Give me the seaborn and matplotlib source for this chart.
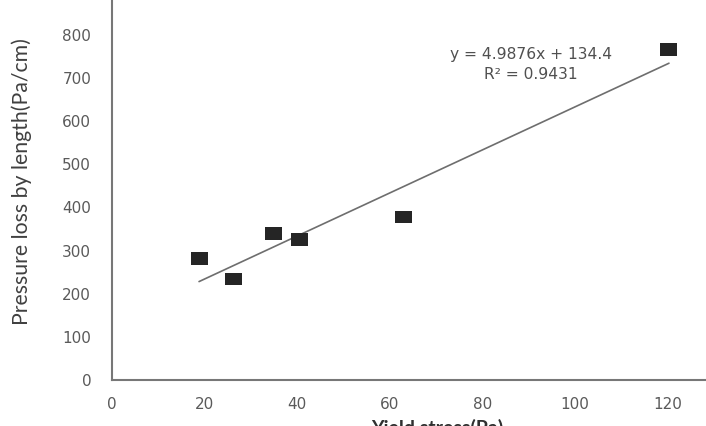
import numpy as np
import pandas as pd
import seaborn as sns
import matplotlib.pyplot as plt

# Datos
yield_stress = [18.8, 26.2, 34.8, 40.5, 63.0, 120.3]
pressure_loss = [281, 234, 340, 326, 378, 766]
slope = 4.9876
intercept = 134.4
r2 = 0.9431
x_ticks = [0, 20, 40, 60, 80, 100, 120]
y_ticks = [0, 100, 200, 300, 400, 500, 600, 700, 800]

df = pd.DataFrame({"x": yield_stress, "y": pressure_loss})
x_fit = np.array([min(yield_stress), max(yield_stress)])
df_fit = pd.DataFrame({"x": x_fit, "y": slope * x_fit + intercept})

sns.set_style("white")
plt.rcParams["font.family"] = ["DejaVu Sans"]

fig = plt.figure(figsize=(7.06, 4.26), dpi=100)
ax = fig.add_axes([112 / 706, 46 / 426, 1 - 112 / 706, 1 - 46 / 426])

# marcador rectangular (algo mas ancho que alto)
rect = [(-1.35, -1), (1.35, -1), (1.35, 1), (-1.35, 1), (-1.35, -1)]
sns.lineplot(data=df_fit, x="x", y="y", color="#6e6e6e", linewidth=1.2, ax=ax)
sns.scatterplot(data=df, x="x", y="y", marker=rect, s=150, color="#252525",
                edgecolor="none", ax=ax, zorder=3)

ax.set_xlim(0, 128.3)
ax.set_ylim(0, 881)
ax.set_xticks(x_ticks)
ax.set_yticks(y_ticks)
ax.tick_params(direction="in", length=5, width=1, color="#666666",
               labelcolor="#5a5a5a", labelsize=11)
ax.tick_params(axis="x", pad=12)
ax.tick_params(axis="y", pad=15)
for side in ["left", "bottom"]:
    ax.spines[side].set_color("#777777")
    ax.spines[side].set_linewidth(1.5)
for side in ["top", "right"]:
    ax.spines[side].set_visible(False)

ax.set_xlabel("")
ax.set_ylabel("")

ax.text(0.705, 0.875, f"y = {slope}x + {intercept}\nR² = {r2}",
        transform=ax.transAxes, ha="center", va="top", fontsize=11.2,
        color="#505050", linespacing=1.35)

fig.text(22 / 706, 1 - 182 / 426, "Pressure loss by length(Pa/cm)",
         rotation=90, ha="center", va="center", fontsize=15.3, color="#404040",
         family=["Lato", "DejaVu Sans"])

fig.text(437 / 706, 1 - 419 / 426, "Yield stress(Pa)", ha="center", va="top",
         fontsize=14, fontweight="bold", color="#303030",
         family=["Lato", "DejaVu Sans"])

fig.savefig("out.png", dpi=100)
plt.close()
